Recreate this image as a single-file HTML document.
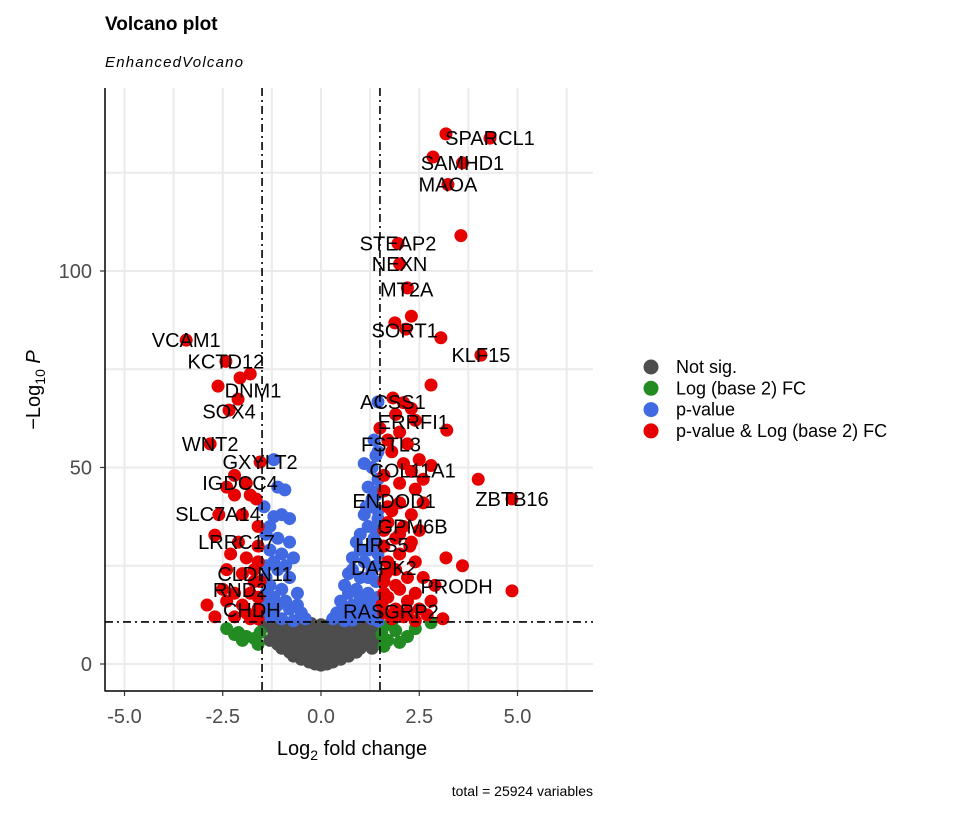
<!DOCTYPE html>
<html><head><meta charset="utf-8"><style>
body{margin:0;background:#fff;}
svg text{font-family:"Liberation Sans",sans-serif;}
</style></head><body>
<svg id="chart" width="960" height="816" viewBox="0 0 960 816">
<text x="105" y="30" font-size="19" font-weight="bold">Volcano plot</text>
<text x="105" y="67" font-size="15" font-style="italic" letter-spacing="1.2">EnhancedVolcano</text>
<g id="grid"></g>
<g id="pts"></g>
<g id="thr"></g>
<g id="labs"></g>
<g id="axes"></g>
<text x="352" y="755" font-size="20" text-anchor="middle">Log<tspan font-size="14" dy="5">2</tspan><tspan dy="-5"> fold change</tspan></text>
<text transform="translate(40,390) rotate(-90)" font-size="20" text-anchor="middle">−Log<tspan font-size="14" dy="5">10</tspan><tspan dy="-5" font-style="italic"> P</tspan></text>
<text x="593" y="796" font-size="14" text-anchor="end">total = 25924 variables</text>
<g id="legend"></g>
</svg>
<script>
const xTicks=[-5,-2.5,0,2.5,5];
const xTickLabels=["-5.0","-2.5","0.0","2.5","5.0"];
const yTicks=[0,50,100];
const xMinor=[-3.75,-1.25,1.25,3.75,6.25];
const yMinor=[25,75,125];
const fcCut=1.5, pCut=10.7;
const grayPts=[[-1.45,9.5],[-1.0,10],[-0.5,10],[0,10],[0.5,10],[1.0,10],[1.4,10],[-1.2,8],[-0.8,8],[-0.4,8],[0,8],[0.4,8],[0.8,8],[1.2,8],[1.45,8],[-1.3,6],[-0.9,6],[-0.5,6],[-0.1,6],[0.3,6],[0.7,6],[1.1,6],[1.45,6],[-1.0,4],[-0.6,4],[-0.2,4],[0.2,4],[0.6,4],[1.0,4],[1.3,4],[-0.7,2],[-0.35,2],[0,2],[0.35,2],[0.7,2],[-0.3,0.5],[0,0.5],[0.3,0.5],[-1.2,9.5],[1.2,9],[-0.75,9],[0.75,9],[-0.2,9],[0.2,9],[-1.25,10.3],[-0.75,10.3],[-0.25,10.3],[0.25,10.3],[0.75,10.3],[1.25,10.3],[-1.0,7],[-0.6,7],[-0.2,7],[0.2,7],[0.6,7],[1.0,7],[1.35,7],[-1.1,5],[-0.7,5],[-0.3,5],[0.1,5],[0.5,5],[0.9,5],[1.25,5],[-0.8,3],[-0.45,3],[-0.1,3],[0.25,3],[0.55,3],[0.9,3],[-0.5,1.2],[-0.15,1.2],[0.15,1.2],[0.5,1.2],[-0.15,0],[0.15,0],[0,-0.3]];
const greenPts=[[-2.4,9],[-2.1,8],[-1.9,7],[-1.7,6.5],[-2.0,6],[-1.6,5],[-2.2,7.5],[-1.55,8],[1.6,9.5],[1.9,8.5],[2.2,7],[1.7,6],[2.0,5.5],[2.8,10.5],[1.6,4.5],[2.4,9],[1.55,7.5],[1.8,10]];
const bluePts=[[1.45,66.7],[1.5,60],[1.35,57],[1.4,53],[1.1,51],[1.3,50],[1.45,47],[1.2,45],[1.4,43],[1.3,40],[1.1,38],[1.45,37],[1.2,35],[1.0,33],[1.35,32],[0.9,31],[1.2,29],[1.45,28],[0.8,27],[1.1,26],[1.3,24],[0.7,23],[1.0,22],[1.4,21],[0.6,20],[0.9,19],[1.2,18],[1.45,17],[0.5,16],[0.8,15],[1.1,14.5],[1.35,14],[0.4,13],[0.7,12.5],[1.0,12],[1.3,11.5],[0.6,11],[1.45,11],[1.3,42],[1.4,34],[1.3,30],[1.0,29],[1.4,25],[0.8,24],[1.2,22],[0.7,18],[1.0,17],[1.3,16],[0.6,14],[0.9,13],[1.2,13],[0.3,11.5],[0.8,11.2],[1.45,54],[1.45,44],[1.45,39],[1.15,40],[-1.2,52],[-0.92,44.3],[-1.1,45],[-1.0,38],[-1.2,37.5],[-0.8,37],[-1.4,33],[-1.1,32],[-0.8,31],[-1.3,29],[-1.0,28],[-0.7,27],[-1.4,25],[-1.1,24],[-0.8,22],[-1.3,20],[-1.0,19],[-0.6,18],[-1.4,16],[-1.1,15],[-0.8,14],[-0.5,13],[-1.3,12],[-1.0,11.5],[-0.7,11],[-1.4,22],[-1.2,26],[-0.9,25],[-1.4,18],[-1.2,17],[-0.9,16],[-1.35,14],[-0.6,15],[-1.2,13.5],[-0.4,11.5],[-1.45,40],[-1.3,35]];
const redPts=[[3.18,134.9],[4.3,133.8],[2.85,129],[3.6,127.5],[3.23,122],[3.56,109],[1.96,107],[2.0,101.8],[2.2,95.7],[2.3,88.5],[1.88,86.8],[2.16,85.2],[3.05,83],[4.07,78.6],[2.8,71],[1.83,67.7],[2.1,66.5],[2.3,65],[1.9,63.5],[2.4,62],[3.2,59.5],[2.0,59],[1.7,57],[2.2,56],[1.8,54],[2.5,52],[2.1,51],[2.8,50.5],[2.3,49],[2.6,47],[4.0,47],[2.0,46],[2.4,44.5],[1.6,44],[4.86,42],[2.0,41],[2.6,41],[1.8,39],[2.3,38],[1.7,36],[2.1,35],[2.5,34],[1.9,32],[2.3,31],[1.6,30],[2.26,30],[2.0,28],[3.18,27],[1.7,26],[2.4,26],[3.6,25],[1.9,24],[2.2,22],[2.6,22],[1.6,21],[2.9,20],[2.0,19],[4.86,18.6],[2.4,18],[1.7,17],[2.2,16],[2.8,16],[1.9,14],[2.5,14],[1.6,13],[2.1,12],[3.1,11.5],[2.7,12.5],[1.8,11.5],[2.4,11],[1.6,48],[1.7,40],[1.6,34],[1.65,23],[1.6,18],[1.55,15],[2.0,33],[1.9,20],[2.2,13],[-3.43,82.4],[-2.42,77],[-2.06,72.8],[-1.8,73.8],[-2.62,70.7],[-2.11,67.4],[-2.34,64.6],[-2.82,56],[-1.55,51.4],[-2.2,48],[-1.9,46],[-2.4,45],[-1.8,43],[-2.2,43],[-1.65,42],[-2.6,38],[-2.0,38],[-1.6,35],[-2.7,32.8],[-2.1,31],[-1.6,30],[-2.3,28],[-1.9,27],[-1.6,26],[-2.4,24],[-2.0,23],[-1.7,21],[-2.5,19],[-2.2,18],[-1.8,18],[-2.4,16],[-2.0,15],[-1.6,14],[-2.9,15],[-2.7,12],[-2.2,12],[-1.8,11.5],[-1.6,17],[-1.7,24],[-1.55,21],[-1.9,13],[-1.6,11.5]];
const geneNames=["SPARCL1","SAMHD1","MAOA","STEAP2","NEXN","MT2A","SORT1","KLF15","ACSS1","ERRFI1","FSTL3","COL11A1","ZBTB16","ENDOD1","GPM6B","HRS5","DAPK2","PRODH","RASGRP2","VCAM1","KCTD12","DNM1","SOX4","WNT2","GXYLT2","IGDCC4","SLC7A14","LRRC17","CLDN11","RND2","CHDH"];
const geneLabelX=[4.3,3.6,3.23,1.96,2.0,2.18,2.13,4.07,1.83,2.35,1.78,2.33,4.86,1.86,2.33,1.55,1.6,3.45,1.78,-3.43,-2.42,-1.73,-2.34,-2.82,-1.55,-2.06,-2.62,-2.15,-1.68,-2.06,-1.76];
const geneLabelY=[133.8,127.5,122,107,101.8,95.3,84.8,78.6,66.7,61.6,55.8,49.2,42,41.5,35,30.3,24.4,19.7,13.4,82.4,77,69.6,64.3,56,51.4,46.1,38.2,31,22.9,18.8,13.7];

const X0=321,XS=39.3,Y0=664,YS=3.93,L=105,R=593,T=88,B=691;
const sx=v=>X0+XS*v, sy=v=>Y0-YS*v;
const NS="http://www.w3.org/2000/svg";
function mk(tag,attrs,parent){const e=document.createElementNS(NS,tag);for(const k in attrs)e.setAttribute(k,attrs[k]);parent.appendChild(e);return e;}
const grid=document.getElementById('grid');
xTicks.concat(xMinor).forEach(v=>{const l=mk('line',{x1:sx(v),x2:sx(v),y1:T,y2:B,stroke:'#ebebeb','stroke-width':2},grid);

});
yTicks.concat(yMinor).forEach(v=>{const l=mk('line',{x1:L,x2:R,y1:sy(v),y2:sy(v),stroke:'#ebebeb','stroke-width':2},grid);

});
const pts=document.getElementById('pts');
function colorFor(p){const big=Math.abs(p[0])>=fcCut, sig=p[1]>=pCut;return big&&sig?'#e60000':sig?'#4169e1':big?'#228b22':'#4d4d4d';}
[grayPts,greenPts,bluePts,redPts].forEach(arr=>arr.forEach(p=>{const c=mk('circle',{cx:sx(p[0]),cy:sy(p[1]),r:6.5,fill:colorFor(p)},pts);

}));
const thr=document.getElementById('thr');
[-fcCut,fcCut].forEach(v=>{const l=mk('line',{x1:sx(v),x2:sx(v),y1:T,y2:B,stroke:'#000','stroke-width':1.6,'stroke-dasharray':'8 4 2 4'},thr);

});
{const l=mk('line',{x1:L,x2:R,y1:sy(pCut),y2:sy(pCut),stroke:'#000','stroke-width':1.6,'stroke-dasharray':'8 4 2 4'},thr);

}
const labs=document.getElementById('labs');
geneNames.forEach((g,i)=>{const t=mk('text',{x:sx(geneLabelX[i]),y:sy(geneLabelY[i])+7,'font-size':20,'text-anchor':'middle'},labs);t.textContent=g;

});
const axes=document.getElementById('axes');
mk('line',{x1:L,x2:L,y1:T,y2:B+0.5,stroke:'#000','stroke-width':1.5},axes);
mk('line',{x1:L,x2:R,y1:B,y2:B,stroke:'#000','stroke-width':1.5},axes);
xTicks.forEach((v,i)=>{mk('line',{x1:sx(v),x2:sx(v),y1:B,y2:B+5,stroke:'#333','stroke-width':1.2},axes);
const t=mk('text',{x:sx(v),y:B+32,'font-size':20,'text-anchor':'middle',fill:'#4d4d4d'},axes);t.textContent=xTickLabels[i];

});
yTicks.forEach(v=>{mk('line',{x1:L-5,x2:L,y1:sy(v),y2:sy(v),stroke:'#333','stroke-width':1.2},axes);
const t=mk('text',{x:L-13,y:sy(v)+7,'font-size':20,'text-anchor':'end',fill:'#4d4d4d'},axes);t.textContent=String(v);

});
const legendLabels=["Not sig.","Log (base 2) FC","p-value","p-value & Log (base 2) FC"];
const legendColors=['#4d4d4d','#228b22','#4169e1','#e60000'];
const leg=document.getElementById('legend');
legendLabels.forEach((s,i)=>{const y=367+21.3*i;
const c=mk('circle',{cx:651,cy:y,r:7.5,fill:legendColors[i]},leg);


const t=mk('text',{x:676,y:y+6,'font-size':18},leg);t.textContent=s;

});
</script>
</body></html>
